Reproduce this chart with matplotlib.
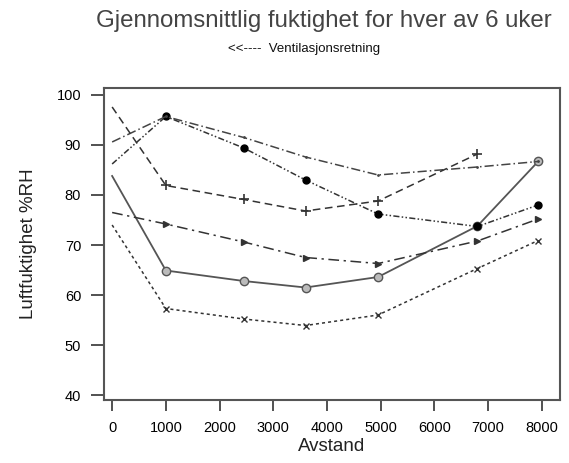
import matplotlib
matplotlib.use('Agg')
import matplotlib.pyplot as plt

plt.rcParams['font.family'] = ['Liberation Sans', 'DejaVu Sans']

# distance along the building and mean relative humidity per week
avstand = [0, 1000, 2450, 3600, 4950, 6800, 7930]
uke1 = [83.8, 64.9, 62.8, 61.5, 63.6, 73.8, 86.7]
uke2 = [86.2, 95.7, 89.4, 83.0, 76.2, 73.7, 78.0]
uke3 = [90.6, 95.7, 91.5, 87.6, 84.0, 85.6, 86.7]
uke4 = [97.6, 81.9, 79.1, 76.8, 78.8, 88.2]
uke5 = [76.5, 74.2, 70.6, 67.5, 66.3, 70.8, 75.2]
uke6 = [74.0, 57.3, 55.2, 53.9, 56.0, 65.3, 70.9]

fig = plt.figure(figsize=(5.69, 4.63), dpi=100)
ax = fig.add_axes([0.183, 0.136, 0.801, 0.674])

# no marker at the first measuring point
mk = slice(1, None)
ax.plot(avstand, uke1, '-', color='#555555', lw=1.3, marker='o', ms=6,
        mfc='#bbbbbb', mec='#555555', markevery=mk)
ax.plot(avstand, uke2, color='#333333', lw=1.1, ls=(0, (4, 1.5, 1, 1.5, 1, 1.5)),
        marker='o', ms=5, mfc='black', mec='black', markevery=mk)
ax.plot(avstand, uke3, color='#444444', lw=1.1, ls=(0, (6, 2, 1, 2)),
        marker='.', ms=2, markevery=mk)
ax.plot(avstand[:6], uke4, color='#333333', lw=1.1, ls=(0, (5, 3)),
        marker='+', ms=7, mew=1.2, markevery=mk)
ax.plot(avstand, uke5, color='#333333', lw=1.1, ls=(0, (7, 3, 1.5, 3)),
        marker='>', ms=4, mfc='#333333', markevery=mk)
ax.plot(avstand, uke6, color='#333333', lw=1.1, ls=(0, (2, 2)),
        marker='x', ms=5, markevery=mk)

ax.set_xlim(-149, 8335)
ax.set_ylim(39, 101.4)
ax.set_xticks(range(0, 8001, 1000))
ax.set_yticks(range(40, 101, 10))
ax.tick_params(axis='y', direction='out', length=9.5, width=1.2, color='#333333',
               labelsize=10.5, pad=7)
ax.tick_params(axis='x', direction='out', length=8, width=1.2, color='#333333',
               labelsize=10.5, pad=7)
for s in ax.spines.values():
    s.set_color('#555555')
    s.set_linewidth(1.5)

ax.set_xlabel('Avstand', fontsize=13.5, color='#222222', labelpad=2)
ax.set_ylabel('Luftfuktighet %RH', fontsize=13.5, color='#222222', labelpad=14)

fig.text(0.569, 0.955, 'Gjennomsnittlig fuktighet for hver av 6 uker',
         ha='center', va='center', fontsize=17.3, color='#444444')
fig.text(0.534, 0.895, '<<----  Ventilasjonsretning', ha='center', va='center',
         fontsize=9.5, color='#111111')

fig.savefig('out.png', dpi=100)
